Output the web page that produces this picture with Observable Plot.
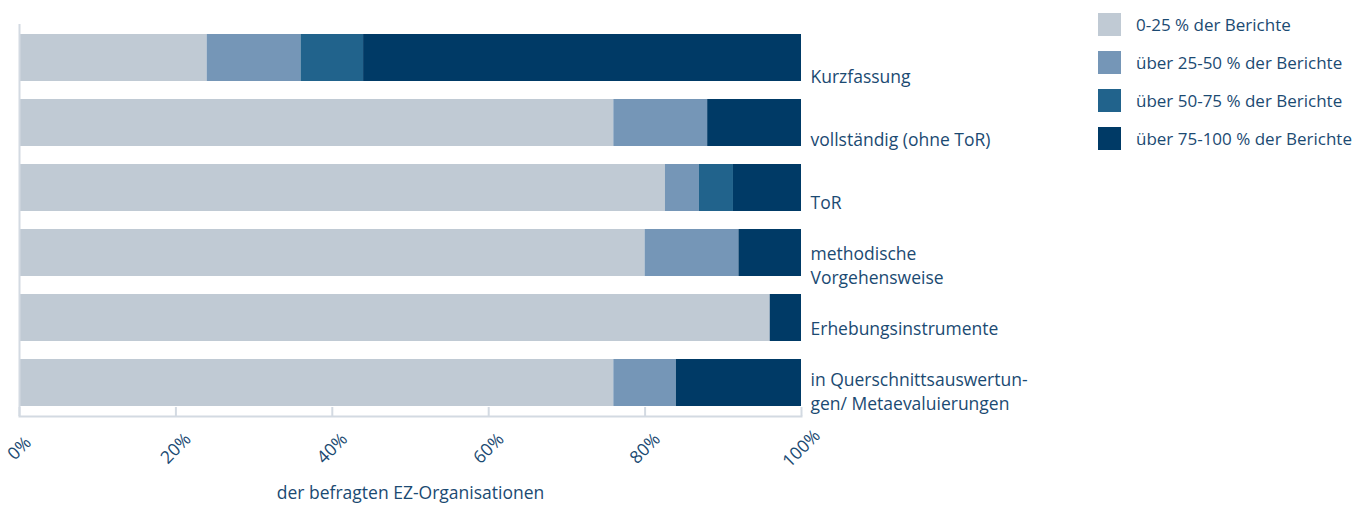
<!DOCTYPE html>
<html>
<head>
<meta charset="utf-8">
<script src="https://cdn.jsdelivr.net/npm/d3@7"></script>
<script src="https://cdn.jsdelivr.net/npm/@observablehq/plot@0.6"></script>
<style>
  body { margin: 0; background: #fff; font-family: "Open Sans", sans-serif; }
  #wrap { position: relative; width: 1357px; height: 505px; }
  #wrap > svg { position: absolute; left: 0; top: 0; }
  #legend { position: absolute; left: 1098px; top: 13px; }
  .item { display: flex; align-items: center; height: 23px; margin-bottom: 15px; }
  .sw { width: 23px; height: 23px; margin-right: 15px; }
  .lt { font-size: 17px; color: #1b4a72; white-space: nowrap; }
</style>
</head>
<body>
<div id="wrap"><div id="legend"></div></div>
<script>
const categories = [
  "Kurzfassung",
  "vollständig (ohne ToR)",
  "ToR",
  "methodische\nVorgehensweise",
  "Erhebungsinstrumente",
  "in Querschnittsauswertun-\ngen/ Metaevaluierungen"
];
const seriesNames = [
  "0-25 % der Berichte",
  "über 25-50 % der Berichte",
  "über 50-75 % der Berichte",
  "über 75-100 % der Berichte"
];
const seriesColors = ["#c0cad4", "#7596b7", "#21638c", "#003a66"];
const v0_25   = [24, 76, 82.6, 80, 96, 76];
const v25_50  = [12, 12, 4.35, 12, 0, 8];
const v50_75  = [8, 0, 4.35, 0, 0, 0];
const v75_100 = [56, 12, 8.7, 8, 4, 16];
const xTicks = [0, 20, 40, 60, 80, 100];
const xTitle = "der befragten EZ-Organisationen";

const seriesValues = [v0_25, v25_50, v50_75, v75_100];
const rows = [];
seriesNames.forEach((s, si) => categories.forEach((c, ci) => rows.push({category: c, series: s, value: seriesValues[si][ci]})));

const textColor = "#1b4a72";
const lineColor = "#d3dae2";
const W = 1357, H = 505;

const chart = Plot.plot({
  width: W,
  height: H,
  marginLeft: 19,
  marginRight: 556,
  marginTop: 24,
  marginBottom: 89,
  style: {fontFamily: "Open Sans, sans-serif", color: textColor, background: "transparent"},
  x: {domain: [0, 100]},
  y: {domain: categories, paddingInner: 0.277, paddingOuter: 0.15, axis: null},
  color: {domain: seriesNames, range: seriesColors},
  marks: [
    Plot.barX(rows, Plot.stackX({x: "value", y: "category", fill: "series", order: null})),
    Plot.ruleX([0], {stroke: lineColor, strokeWidth: 2}),
    Plot.frame({anchor: "bottom", stroke: lineColor, strokeWidth: 2}),
    Plot.axisX({ticks: xTicks, tickSize: -9, stroke: lineColor, strokeWidth: 2, text: null, label: null}),
    Plot.axisX({
      ticks: xTicks,
      tickSize: 0,
      tickPadding: 32,
      tickRotate: -45,
      textAnchor: "middle",
      lineAnchor: "middle",
      tickFormat: d => d + "%",
      fontSize: 17.5,
      fill: textColor,
      label: null
    }),
    Plot.text([xTitle], {
      frameAnchor: "bottom",
      dy: 77,
      lineAnchor: "middle",
      fontSize: 17.5,
      fill: textColor
    })
  ]
});
document.getElementById("wrap").prepend(chart);

// Category labels: their own vertical scale, as in the reference
const labels = Plot.plot({
  width: W,
  height: H,
  margin: 0,
  style: {fontFamily: "Open Sans, sans-serif", color: textColor, background: "transparent"},
  x: {domain: [0, 100], range: [19, 801], axis: null},
  y: {type: "point", domain: categories, range: [75, 390], padding: 0, axis: null},
  marks: [
    Plot.text(categories, {
      x: () => 100,
      y: d => d,
      text: d => d,
      textAnchor: "start",
      lineAnchor: "middle",
      lineHeight: 1.37,
      dx: 9,
      fontSize: 17.5,
      fill: textColor
    })
  ]
});
labels.style.pointerEvents = "none";
document.getElementById("wrap").append(labels);

const legend = document.getElementById("legend");
seriesNames.forEach((s, i) => {
  const item = document.createElement("div");
  item.className = "item";
  const sw = document.createElement("div");
  sw.className = "sw";
  sw.style.background = seriesColors[i];
  const t = document.createElement("span");
  t.className = "lt";
  t.textContent = s;
  item.append(sw, t);
  legend.append(item);
});
</script>
</body>
</html>
